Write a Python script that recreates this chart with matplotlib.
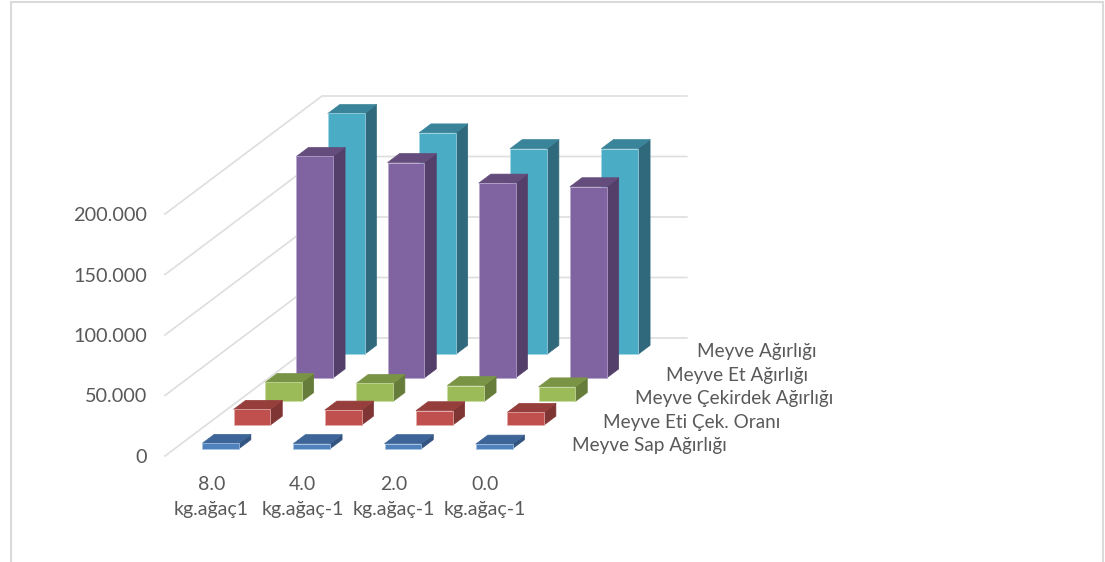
"""3D-style clustered column chart of fruit weight traits per dose, Excel look."""

from __future__ import annotations

import matplotlib

matplotlib.use("Agg")
import matplotlib.pyplot as plt
from matplotlib.patches import Polygon, Rectangle

CATEGORY_DOSES = ["8.0", "4.0", "2.0", "0.0"]
CATEGORY_UNITS = ["kg.ağaç1", "kg.ağaç-1", "kg.ağaç-1", "kg.ağaç-1"]
Y_TICKS = [0, 50000, 100000, 150000, 200000]
Y_TICK_LABELS = ["0", "50.000", "100.000", "150.000", "200.000"]

SERIES_NAMES = [
    "Meyve Sap Ağırlığı",
    "Meyve Eti Çek. Oranı",
    "Meyve Çekirdek Ağırlığı",
    "Meyve Et Ağırlığı",
    "Meyve Ağırlığı",
]
SAP_WEIGHT = [4400, 4200, 4200, 3800]
FLESH_SEED_RATIO = [13000, 12400, 11900, 10500]
SEED_WEIGHT = [15700, 14900, 13200, 12100]
FLESH_WEIGHT = [183000, 178000, 161000, 158000]
FRUIT_WEIGHT = [199000, 183000, 170000, 170000]
SERIES_VALUES = [SAP_WEIGHT, FLESH_SEED_RATIO, SEED_WEIGHT, FLESH_WEIGHT, FRUIT_WEIGHT]

# front, top, side, outline
SERIES_COLORS = [
    ("#4F81BD", "#3E6598", "#335480", "#A9C4E4"),
    ("#C0504D", "#963E3C", "#7F3533", "#E3B1AF"),
    ("#9BBB59", "#7A9445", "#667C3A", "#CBDCA6"),
    ("#8064A2", "#644C7C", "#533F69", "#BBA9D0"),
    ("#4BACC6", "#3A8499", "#31697C", "#A5D5E3"),
]

GRID = "#DEDEDE"
TEXT = "#595959"
FONT = ["Lato", "DejaVu Sans"]

# oblique projection, in pixels of the 1105x562 canvas
ORIGIN_X, ORIGIN_Y = 165.0, 456.0
CAT_STEP = 91.2
DEPTH_DX, DEPTH_DY = 31.4, 23.6
PX_PER_UNIT = 60.5 / 50000
N_DEPTH = len(SERIES_NAMES)


def _project(cat, depth, value=0.0):
    """Map category / series depth / value to canvas coordinates."""
    x = ORIGIN_X + cat * CAT_STEP + depth * DEPTH_DX
    y = ORIGIN_Y - depth * DEPTH_DY - value * PX_PER_UNIT
    return x, y


def _column(ax, cat, depth, value, colors):
    """Draw one box: side and top faces first, then the front."""
    front, top, side, edge = colors
    x0, x1 = cat + 0.302, cat + 0.704
    d0, d1 = depth + 0.31, depth + 0.69
    faces = [
        (side, side, [(x1, d0, 0), (x1, d1, 0), (x1, d1, value), (x1, d0, value)]),
        (top, top, [(x0, d0, value), (x1, d0, value), (x1, d1, value), (x0, d1, value)]),
        (front, edge, [(x0, d0, 0), (x1, d0, 0), (x1, d0, value), (x0, d0, value)]),
    ]
    for color, outline, corners in faces:
        ax.add_patch(Polygon([_project(*c) for c in corners], closed=True,
                             facecolor=color, edgecolor=outline, linewidth=0.5,
                             joinstyle="round", zorder=3 + (N_DEPTH - depth)))


def _draw_walls(ax):
    """Gridlines on the side wall and the back wall."""
    n_cat = len(CATEGORY_DOSES)
    for tick in Y_TICKS:
        front = _project(0, 0, tick)
        corner = _project(0, N_DEPTH, tick)
        end = _project(n_cat, N_DEPTH, tick)
        ax.plot([front[0], corner[0], end[0]], [front[1], corner[1], end[1]],
                color=GRID, linewidth=1.2, solid_joinstyle="miter", zorder=2)


def main() -> None:
    fig = plt.figure(figsize=(11.05, 5.62), dpi=100)
    ax = fig.add_axes([0, 0, 1, 1])
    ax.set_xlim(0, 1105)
    ax.set_ylim(562, 0)
    ax.axis("off")

    # chart area border; the bottom edge runs off the canvas
    ax.add_patch(Rectangle((10.6, 2), 1092.4, 580, facecolor="white",
                           edgecolor="#DADADA", linewidth=1.5, zorder=1))

    _draw_walls(ax)

    for depth in reversed(range(N_DEPTH)):
        for cat, value in enumerate(SERIES_VALUES[depth]):
            _column(ax, cat, depth, value, SERIES_COLORS[depth])

    for tick, label in zip(Y_TICKS, Y_TICK_LABELS):
        _, y = _project(0, 0, tick)
        ax.text(147, y + 1.5, label, ha="right", va="center", color=TEXT,
                fontsize=14.3, family=FONT)

    for cat, (dose, unit) in enumerate(zip(CATEGORY_DOSES, CATEGORY_UNITS)):
        x, _ = _project(cat + 0.5, 0)
        ax.text(x + 1, 484, dose, ha="center", va="center", color=TEXT,
                fontsize=14, family=FONT)
        ax.text(x + 1, 509, unit, ha="center", va="center", color=TEXT,
                fontsize=14, family=FONT)

    for depth, name in enumerate(SERIES_NAMES):
        x, y = _project(len(CATEGORY_DOSES), depth)
        ax.text(x + 42, y - 10, name, ha="left", va="center", color=TEXT,
                fontsize=13.6, family=FONT)

    fig.savefig("out.png", dpi=100)
    plt.close(fig)


if __name__ == "__main__":
    main()
